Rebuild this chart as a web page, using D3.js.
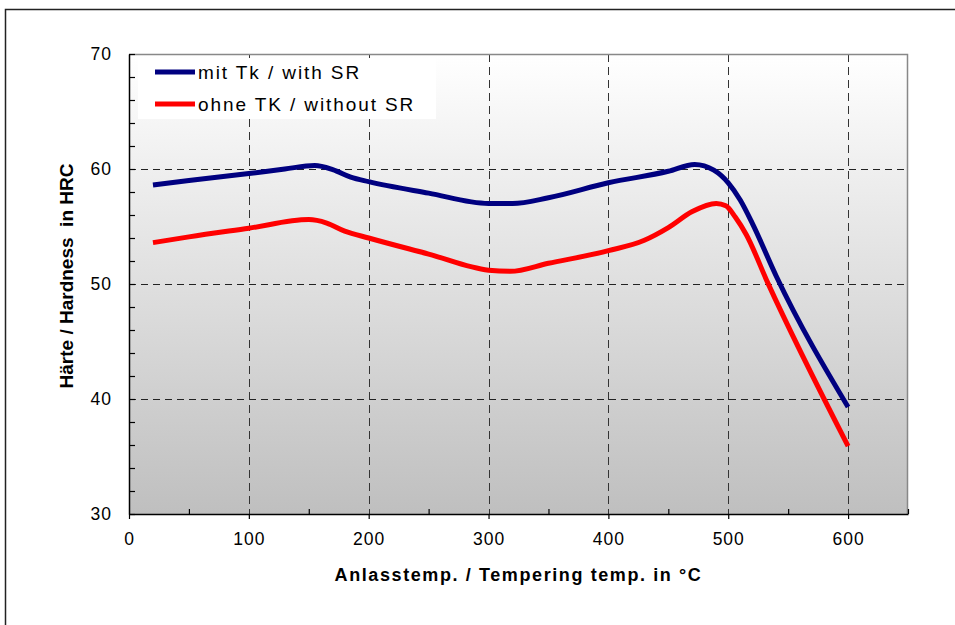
<!DOCTYPE html>
<html>
<head>
<meta charset="utf-8">
<script src="https://cdn.jsdelivr.net/npm/d3@7"></script>
<style>
    body { margin: 0; background: #fff; }
    text { font-family: Arial, "Liberation Sans", sans-serif; fill: #000; }
</style>
</head>
<body>
<div id="chart"></div>
<script>
// data
const tempsWithSR = [20, 50, 100, 130, 155, 170, 185, 200, 250, 300, 320, 350, 400, 450, 472, 488, 500, 510, 520, 540, 600]
const hardWithSR = [58.6, 59.0, 59.6, 60.0, 60.3, 59.95, 59.3, 58.9, 57.9, 57.0, 57.0, 57.5, 58.8, 59.8, 60.4, 59.9, 58.8, 57.3, 55.3, 50.7, 39.3]

const tempsWithoutSR = [20, 50, 100, 150, 165, 180, 200, 250, 300, 318, 350, 400, 430, 450, 470, 490, 498, 506, 515, 533, 600]
const hardWithoutSR = [53.6, 54.1, 54.85, 55.6, 55.3, 54.6, 54.0, 52.6, 51.2, 51.1, 51.8, 52.9, 53.8, 54.9, 56.3, 57.0, 56.8, 55.8, 54.3, 50.1, 35.9]

const seriesNames = ["mit Tk / with SR", "ohne TK / without SR"]
const seriesColors = ["#000080", "#ff0000"]

const xMajorTicks = [0, 100, 200, 300, 400, 500, 600]
const xMinorTicks = [50, 150, 250, 350, 450, 550, 650]
const yMajorTicks = [30, 40, 50, 60, 70]

function drawChart() {
    let dimensions = {
        width: 955,
        height: 625,
        margin: {
            top: 54,
            right: 47,
            bottom: 111,
            left: 129,
        },
    }
    dimensions.boundedWidth = dimensions.width - dimensions.margin.left - dimensions.margin.right
    dimensions.boundedHeight = dimensions.height - dimensions.margin.top - dimensions.margin.bottom

    const svg = d3.select("#chart")
        .append("svg")
        .attr("width", dimensions.width)
        .attr("height", dimensions.height)

    // outer frame
    svg.append("rect")
        .attr("x", 5.5)
        .attr("y", 9.5)
        .attr("width", 970)
        .attr("height", 700)
        .attr("fill", "none")
        .attr("stroke", "#222")
        .attr("stroke-width", 1.5)

    const defs = svg.append("defs")
    const grad = defs.append("linearGradient")
        .attr("id", "bg")
        .attr("x1", 0).attr("y1", 0)
        .attr("x2", 0).attr("y2", 1)
    grad.append("stop").attr("offset", "0%").attr("stop-color", "#ffffff")
    grad.append("stop").attr("offset", "100%").attr("stop-color", "#bfbfbf")

    const bounds = svg.append("g")
        .attr("transform", `translate(${dimensions.margin.left}, ${dimensions.margin.top})`)

    const xScale = d3.scaleLinear()
        .domain([0, 650])
        .range([0, dimensions.boundedWidth])

    const yScale = d3.scaleLinear()
        .domain([30, 70])
        .range([dimensions.boundedHeight, 0])

    bounds.append("rect")
        .attr("width", dimensions.boundedWidth)
        .attr("height", dimensions.boundedHeight)
        .attr("fill", "url(#bg)")

    // grid
    bounds.append("g")
        .selectAll("line")
        .data(yMajorTicks.filter(d => d > 30 && d < 70))
        .join("line")
        .attr("x1", 0)
        .attr("x2", dimensions.boundedWidth)
        .attr("y1", d => Math.round(yScale(d)) + 0.5)
        .attr("y2", d => Math.round(yScale(d)) + 0.5)
        .attr("stroke", "#222")
        .attr("stroke-dasharray", "7,5")

    bounds.append("g")
        .selectAll("line")
        .data(xMajorTicks.filter(d => d > 0))
        .join("line")
        .attr("x1", d => Math.round(xScale(d)) + 0.5)
        .attr("x2", d => Math.round(xScale(d)) + 0.5)
        .attr("y1", 0)
        .attr("y2", dimensions.boundedHeight)
        .attr("stroke", "#333")
        .attr("stroke-dasharray", "8,5")

    // plot border top/right
    bounds.append("path")
        .attr("d", `M0,0.5H${dimensions.boundedWidth - 0.5}V${dimensions.boundedHeight}`)
        .attr("fill", "none")
        .attr("stroke", "#888")
        .attr("stroke-width", 1.5)

    // legend box
    bounds.append("rect")
        .attr("x", 9)
        .attr("y", 4)
        .attr("width", 298)
        .attr("height", 61)
        .attr("fill", "#fff")

    // lines
    const series = [
        { name: seriesNames[0], color: seriesColors[0], temps: tempsWithSR, values: hardWithSR },
        { name: seriesNames[1], color: seriesColors[1], temps: tempsWithoutSR, values: hardWithoutSR },
    ]

    const lineGenerator = d3.line()
        .x(d => xScale(d[0]))
        .y(d => yScale(d[1]))
        .curve(d3.curveMonotoneX)

    bounds.append("g")
        .selectAll("path")
        .data(series)
        .join("path")
        .attr("d", s => lineGenerator(d3.zip(s.temps, s.values)))
        .attr("fill", "none")
        .attr("stroke", s => s.color)
        .attr("stroke-width", 5)

    // legend
    const legend = bounds.append("g")
        .selectAll("g")
        .data(series)
        .join("g")
        .attr("transform", (d, i) => `translate(26, ${18 + i * 32})`)
    legend.append("line")
        .attr("x1", 0)
        .attr("x2", 40)
        .attr("stroke", d => d.color)
        .attr("stroke-width", 5)
    legend.append("text")
        .attr("x", 43)
        .attr("y", 7)
        .text(d => d.name)
        .style("font-size", "19px")
        .style("letter-spacing", "1.9px")

    // axes
    const yAxisGenerator = d3.axisLeft(yScale)
        .tickValues(d3.range(30, 71, 2))
        .tickSize(-6)
        .tickPadding(17)
        .tickSizeOuter(0)
        .tickFormat(d => yMajorTicks.includes(d) ? d : "")
    const yAxis = bounds.append("g")
        .call(yAxisGenerator)
    yAxis.select(".domain").attr("stroke", "#000").attr("stroke-width", 1.5)
    yAxis.selectAll(".tick line").attr("stroke", "#000").attr("stroke-width", 1.2)
    yAxis.selectAll("text")
        .style("font-size", "17.5px")
        .style("letter-spacing", "1px")
        .attr("font-family", null)

    const xAxisGenerator = d3.axisBottom(xScale)
        .tickValues(xMajorTicks)
        .tickSize(5)
        .tickPadding(14)
        .tickSizeOuter(0)
    const xAxis = bounds.append("g")
        .attr("transform", `translate(0, ${dimensions.boundedHeight})`)
        .call(xAxisGenerator)
    xAxis.select(".domain").attr("stroke", "#000").attr("stroke-width", 1.5)
    xAxis.selectAll(".tick line").attr("stroke", "#000").attr("stroke-width", 1.2)
    xAxis.selectAll("text")
        .style("font-size", "17.5px")
        .style("letter-spacing", "1px")
        .attr("font-family", null)

    const xMinorAxis = bounds.append("g")
        .attr("transform", `translate(0, ${dimensions.boundedHeight})`)
        .call(d3.axisBottom(xScale).tickValues(xMinorTicks).tickSize(-5).tickSizeOuter(0).tickFormat(""))
    xMinorAxis.select(".domain").remove()
    xMinorAxis.selectAll(".tick line").attr("stroke", "#000").attr("stroke-width", 1.2)

    // axis titles
    svg.append("text")
        .attr("x", dimensions.margin.left + dimensions.boundedWidth / 2)
        .attr("y", 581)
        .attr("text-anchor", "middle")
        .style("font-size", "18px")
        .style("font-weight", "bold")
        .style("letter-spacing", "1.6px")
        .text("Anlasstemp. / Tempering temp. in °C")

    svg.append("text")
        .attr("transform", "translate(73, 276) rotate(-90)")
        .attr("text-anchor", "middle")
        .style("font-size", "19px")
        .style("font-weight", "bold")
        .style("white-space", "pre")
        .text("Härte / Hardness  in HRC")
}

drawChart()
</script>
</body>
</html>
